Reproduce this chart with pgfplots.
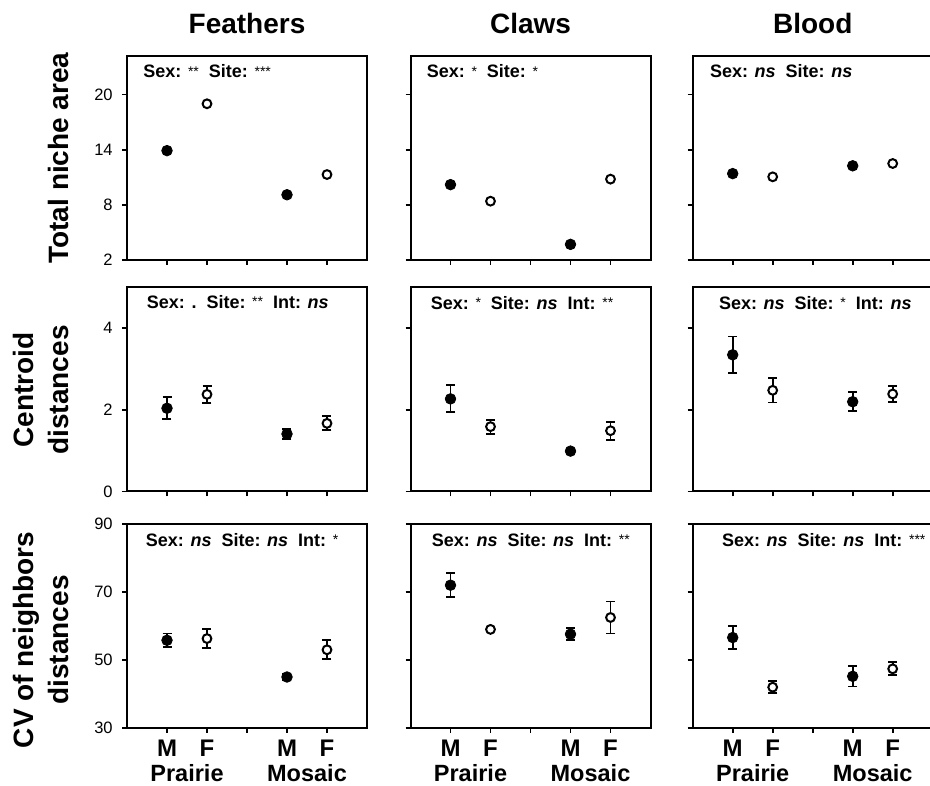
\documentclass[border=0pt]{standalone}
\usepackage{fontspec}
\setmainfont{Liberation Sans}
\usepackage{pgfplots}
\pgfplotsset{compat=1.18}

\newcommand{\as}[1]{\raisebox{1.5pt}{\fontsize{14}{14}\selectfont\mdseries #1}}

\pgfplotsset{
 panel/.style={
  width=240pt, height=204pt, scale only axis,
  xmin=0, xmax=6, xtick={1,2,3,4,5}, xticklabels={},
  tick align=outside, major tick length=5pt,
  xtick pos=left, ytick pos=left,
  line width=2pt,
  axis line style={line width=2pt},
  tick style={line width=1.8pt, black},
  ticklabel style={font=\fontsize{16.5}{18}\selectfont},
  yticklabel style={xshift=-5pt},
  /pgf/number format/assume math mode=true,
  clip=false,
  anchor=south west,
 },
 row1/.style={ymin=2, ymax=24.2, ytick={2,8,14,20}},
 row2/.style={ymin=0, ymax=5, ytick={0,2,4}},
 row3/.style={ymin=30, ymax=90, ytick={30,50,70,90}, xticklabels={M,F,,M,F},
   xticklabel style={font=\bfseries\fontsize{24}{26}\selectfont, yshift=-3pt}},
 nolab/.style={yticklabels={}},
 male/.style={only marks, mark=*, mark size=5.3pt, mark options={fill=black, draw=black, line width=0.8pt}},
 female/.style={only marks, mark=*, mark size=4.4pt, mark options={fill=white, draw=black, line width=2pt}},
 eb/.style={error bars/.cd, y dir=both, y explicit,
   error bar style={line width=1.9pt, black},
   error mark options={line width=1.9pt, mark size=4.5pt, rotate=90, black}},
}
\tikzset{
 ann/.style={anchor=base west, font=\bfseries\fontsize{18}{20}\selectfont},
 site/.style={anchor=base, yshift=-53.5pt, font=\bfseries\fontsize{23.5}{26}\selectfont},
}

\begin{document}
\begin{tikzpicture}
\useasboundingbox (0pt,0pt) rectangle (930pt,786pt);

% titles
\node[anchor=base, font=\bfseries\fontsize{28}{30}\selectfont] at (247pt,752.7pt) {Feathers};
\node[anchor=base, font=\bfseries\fontsize{28}{30}\selectfont] at (530.5pt,752.7pt) {Claws};
\node[anchor=base, font=\bfseries\fontsize{28}{30}\selectfont] at (812.7pt,752.7pt) {Blood};

% y labels
\node[anchor=base, rotate=90, font=\bfseries\fontsize{28}{30}\selectfont] at (68pt,628pt) {Total niche area};
\node[anchor=base, rotate=90, font=\bfseries\fontsize{28}{30}\selectfont] at (33pt,396pt) {Centroid};
\node[anchor=base, rotate=90, font=\bfseries\fontsize{28}{30}\selectfont] at (68pt,396pt) {distances};
\node[anchor=base, rotate=90, font=\bfseries\fontsize{28}{30}\selectfont] at (33pt,146pt) {CV of neighbors};
\node[anchor=base, rotate=90, font=\bfseries\fontsize{28}{30}\selectfont] at (68pt,146pt) {distances};

% ---------- Row 1: Total niche area ----------
\begin{axis}[panel, row1, at={(127pt,526pt)}]
\addplot[male] coordinates {(1,13.9) (4,9.1)};
\addplot[female] coordinates {(2,19.0) (5,11.3)};
\node[ann, xshift=12pt, yshift=-22pt] at (rel axis cs:0,1) {Sex: \as{**}\ \ Site: \as{***}};
\end{axis}

\begin{axis}[panel, row1, nolab, at={(410.5pt,526pt)}]
\addplot[male] coordinates {(1,10.2) (4,3.7)};
\addplot[female] coordinates {(2,8.4) (5,10.8)};
\node[ann, xshift=12pt, yshift=-22pt] at (rel axis cs:0,1) {Sex: \as{*}\ \ Site: \as{*}};
\end{axis}

\begin{axis}[panel, row1, nolab, at={(692.7pt,526pt)}]
\addplot[male] coordinates {(1,11.4) (4,12.25)};
\addplot[female] coordinates {(2,11.05) (5,12.5)};
\node[ann, xshift=13pt, yshift=-22pt] at (rel axis cs:0,1) {Sex: \textit{ns}\ \ Site: \textit{ns}};
\end{axis}

% ---------- Row 2: Centroid distances ----------
\begin{axis}[panel, row2, at={(127pt,294.5pt)}]
\addplot[male, eb] table[x=x, y=y, y error=e] {
x y e
1 2.04 0.27
4 1.41 0.12
};
\addplot[female, eb] table[x=x, y=y, y error=e] {
x y e
2 2.38 0.21
5 1.67 0.17
};
\node[ann, xshift=15.5pt, yshift=-21pt] at (rel axis cs:0,1) {Sex: .\ \ Site: \as{**}\ \ Int: \textit{ns}};
\end{axis}

\begin{axis}[panel, row2, nolab, at={(410.5pt,294.5pt)}]
\addplot[male, eb] table[x=x, y=y, y error=e] {
x y e
1 2.27 0.33
4 0.99 0.05
};
\addplot[female, eb] table[x=x, y=y, y error=e] {
x y e
2 1.59 0.17
5 1.49 0.22
};
\node[ann, xshift=16pt, yshift=-22pt] at (rel axis cs:0,1) {Sex: \as{*}\ \ Site: \textit{ns}\ \ Int: \as{**}};
\end{axis}

\begin{axis}[panel, row2, nolab, at={(692.7pt,294.5pt)}]
\addplot[male, eb] table[x=x, y=y, y error=e] {
x y e
1 3.35 0.45
4 2.20 0.23
};
\addplot[female, eb] table[x=x, y=y, y error=e] {
x y e
2 2.48 0.30
5 2.39 0.20
};
\node[ann, xshift=22pt, yshift=-22pt] at (rel axis cs:0,1) {Sex: \textit{ns}\ \ Site: \as{*}\ \ Int: \textit{ns}};
\end{axis}

% ---------- Row 3: CV of neighbors distances ----------
\begin{axis}[panel, row3, at={(127pt,58pt)}]
\addplot[male, eb] table[x=x, y=y, y error=e] {
x y e
1 55.8 2.0
4 45.0 1.0
};
\addplot[female, eb] table[x=x, y=y, y error=e] {
x y e
2 56.3 2.8
5 53.0 2.8
};
\node[ann, xshift=14.5pt, yshift=-22.5pt] at (rel axis cs:0,1) {Sex: \textit{ns}\ \ Site: \textit{ns}\ \ Int: \as{*}};
\node[site] at (axis cs:1.5,30) {Prairie};
\node[site] at (axis cs:4.5,30) {Mosaic};
\end{axis}

\begin{axis}[panel, row3, nolab, at={(410.5pt,58pt)}]
\addplot[male, eb] table[x=x, y=y, y error=e] {
x y e
1 72.0 3.5
4 57.6 1.7
};
\addplot[female, eb] table[x=x, y=y, y error=e] {
x y e
2 59.0 0.5
5 62.5 4.7
};
\node[ann, xshift=17pt, yshift=-22.5pt] at (rel axis cs:0,1) {Sex: \textit{ns}\ \ Site: \textit{ns}\ \ Int: \as{**}};
\node[site] at (axis cs:1.5,30) {Prairie};
\node[site] at (axis cs:4.5,30) {Mosaic};
\end{axis}

\begin{axis}[panel, row3, nolab, at={(692.7pt,58pt)}]
\addplot[male, eb] table[x=x, y=y, y error=e] {
x y e
1 56.6 3.3
4 45.2 3.0
};
\addplot[female, eb] table[x=x, y=y, y error=e] {
x y e
2 42.0 1.8
5 47.4 1.9
};
\node[ann, xshift=25pt, yshift=-22.5pt] at (rel axis cs:0,1) {Sex: \textit{ns}\ \ Site: \textit{ns}\ \ Int: \as{***}};
\node[site] at (axis cs:1.5,30) {Prairie};
\node[site] at (axis cs:4.5,30) {Mosaic};
\end{axis}

\end{tikzpicture}
\end{document}
